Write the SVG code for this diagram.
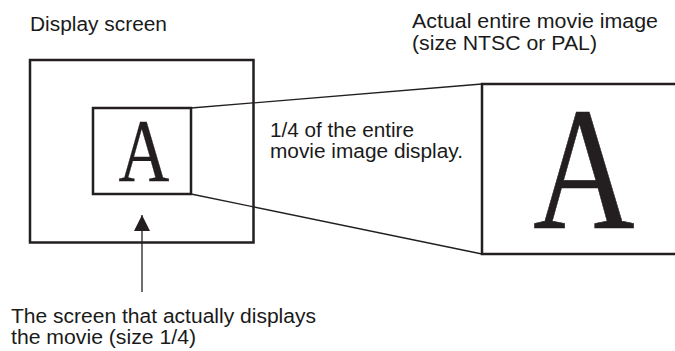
<svg xmlns="http://www.w3.org/2000/svg" width="675" height="351" viewBox="0 0 675 351">
<defs>
<style>
.lbl{font-family:"Liberation Sans",Arial,sans-serif;font-size:20px;fill:#1a1a1a}
.box{fill:#fff;stroke:#231f20;stroke-width:2.5}
.conn{stroke:#231f20;stroke-width:1.3;fill:none}
.bigA{font-family:"Liberation Serif","Times New Roman",serif;fill:#231f20;stroke:#231f20}
</style>
<marker id="arr" viewBox="0 0 10 10" refX="10" refY="5" markerWidth="16" markerHeight="16" markerUnits="userSpaceOnUse" orient="auto">
<path d="M0,0 L10,5 L0,10 z" fill="#231f20"/>
</marker>
</defs>
<rect width="675" height="351" fill="#fff"/>
<g id="display-screen">
<rect class="box" x="30" y="60" width="223.5" height="182.5"/>
<text class="lbl" x="30" y="31" textLength="137" lengthAdjust="spacingAndGlyphs">Display screen</text>
</g>
<g id="movie-screen">
<rect class="box" x="93" y="108" width="98" height="86"/>
<text class="bigA" x="0" y="0" font-size="88" stroke-width="0.3" transform="translate(118.5,180) scale(0.8,1)">A</text>
</g>
<g id="entire-image">
<rect class="box" x="482" y="84" width="210" height="170"/>
<text class="bigA" x="0" y="0" font-size="176" stroke-width="0.6" transform="translate(533,228) scale(0.8,1)">A</text>
<text class="lbl" x="412" y="28" textLength="246" lengthAdjust="spacingAndGlyphs">Actual entire movie image</text>
<text class="lbl" x="412" y="50" textLength="185" lengthAdjust="spacingAndGlyphs">(size NTSC or PAL)</text>
</g>
<g id="ratio-label">
<text class="lbl" x="270" y="137" textLength="144" lengthAdjust="spacingAndGlyphs">1/4 of the entire</text>
<text class="lbl" x="270" y="158" textLength="193" lengthAdjust="spacingAndGlyphs">movie image display.</text>
</g>
<g id="screen-label">
<text class="lbl" x="11" y="323" textLength="305" lengthAdjust="spacingAndGlyphs">The screen that actually displays</text>
<text class="lbl" x="11" y="344" textLength="185" lengthAdjust="spacingAndGlyphs">the movie (size 1/4)</text>
</g>
<g id="connectors">
<line class="conn" x1="191" y1="108" x2="482" y2="84"/>
<line class="conn" x1="191" y1="194" x2="482" y2="254"/>
<line class="conn" x1="142" y1="292" x2="142" y2="215" marker-end="url(#arr)"/>
</g>
</svg>
